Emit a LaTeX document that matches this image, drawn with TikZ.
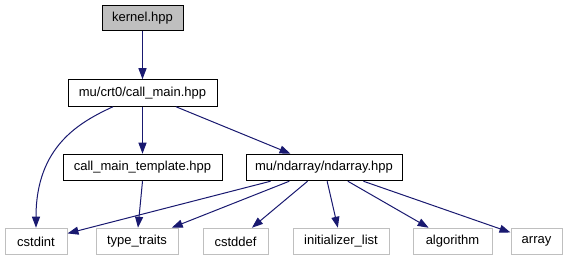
\documentclass[tikz,border=0pt]{standalone}
\usepackage{fontspec}
\setmainfont{Liberation Sans}
\usetikzlibrary{arrows.meta,calc}
\definecolor{edgeblue}{RGB}{25,25,112}
\definecolor{boxgrey}{RGB}{191,191,191}
\begin{document}
\begin{tikzpicture}[x=1pt,y=-1pt,
  box/.style={draw=black,line width=1pt,minimum height=26.5pt,inner sep=0pt,font=\fontsize{13}{15}\selectfont},
  extbox/.style={box,draw=boxgrey},
  dep/.style={draw=edgeblue,line width=1pt,-{Triangle[length=11pt,width=8pt]},color=edgeblue}]
\useasboundingbox (0,0) rectangle (568,261);
\node[box,fill=boxgrey,minimum width=81pt,minimum height=25pt] (kernel) at (142.5,18.5) {kernel.hpp};
\node[box,minimum width=149pt] (callmain) at (142.5,93) {mu/crt0/call\_main.hpp};
\node[box,minimum width=159pt] (tmpl) at (142.5,167.5) {call\_main\_template.hpp};
\node[box,minimum width=156pt] (nd) at (324,167.5) {mu/ndarray/ndarray.hpp};
\node[extbox,minimum width=62pt] (cstdint) at (36,241.5) {cstdint};
\node[extbox,minimum width=82pt] (tt) at (137,241.5) {type\_traits};
\node[extbox,minimum width=65pt] (cstddef) at (235.5,241.5) {cstddef};
\node[extbox,minimum width=96pt] (il) at (341,241.5) {initializer\_list};
\node[extbox,minimum width=79pt] (alg) at (452.5,241.5) {algorithm};
\node[extbox,minimum width=51pt] (arr) at (536.5,241.5) {array};
\draw[dep] (kernel) -- (callmain);
\draw[dep] ($(callmain.south)+(-29.5,0)$) .. controls (80,122) and (36,146) .. (cstdint.north);
\draw[dep] (callmain) -- (tmpl);
\draw[dep] (callmain) -- (nd);
\draw[dep] (tmpl.south) -- ($(tt.north)+(1,0)$);
\draw[dep] (nd) -- (cstdint);
\draw[dep] (nd) -- (tt);
\draw[dep] (nd) -- (cstddef);
\draw[dep] (nd) -- (il);
\draw[dep] (nd) -- (alg);
\draw[dep] (nd) -- (arr);
\end{tikzpicture}
\end{document}
